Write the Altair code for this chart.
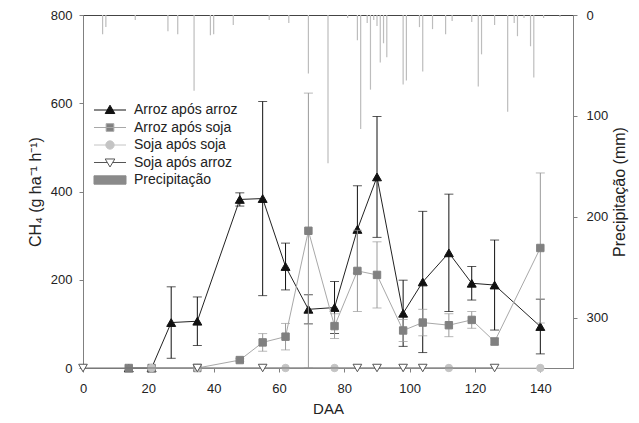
import altair as alt
import pandas as pd

# ---------------- data ----------------
aa_days = [14, 21, 27, 35, 48, 55, 62, 69, 77, 84, 90, 98, 104, 112, 119, 126, 140]
aa_vals = [0, 0, 103, 106, 382, 384, 230, 133, 137, 314, 433, 124, 195, 261, 192, 188, 94]
aa_errs = [0, 0, 81, 55, 15, 220, 53, 33, 59, 99, 137, 75, 160, 133, 38, 102, 62]

as_days = [14, 21, 35, 48, 55, 62, 69, 77, 84, 90, 98, 104, 112, 119, 126, 140]
as_vals = [0, 0, 0, 18, 58, 71, 311, 95, 220, 211, 85, 103, 97, 109, 60, 272]
as_errs = [0, 0, 0, 3, 20, 30, 312, 28, 92, 75, 25, 30, 26, 19, 8, 170]

ss_days = [21, 35, 62, 77, 112, 140]
ss_vals = [0, 0, 0, 0, 0, 0]

sa_days = [0, 35, 55, 84, 90, 98, 104, 126]
sa_vals = [0, 0, 0, 0, 0, 0, 0, 0]

pr_days = [6, 7, 16, 26, 29, 34, 39, 40, 46, 57, 63, 69, 75, 81, 84, 85, 87, 88, 89, 90,
           91, 92, 93, 98, 99, 103, 104, 107, 111, 113, 119, 121, 122, 126, 130, 132, 133,
           135, 137, 138, 141, 146]
pr_mm = [19, 12, 5, 16, 19, 75, 20, 19, 10, 5, 8, 58, 147, 3, 25, 113, 8, 74, 5, 11,
         47, 28, 42, 69, 65, 12, 56, 14, 19, 6, 7, 71, 39, 10, 96, 8, 21,
         3, 31, 62, 3, 2]

legend_names = ["Arroz após arroz", "Arroz após soja", "Soja após soja",
                "Soja após arroz", "Precipitação"]
x_ticks = [0, 20, 40, 60, 80, 100, 120, 140]
y_ticks = [0, 200, 400, 600, 800]
p_ticks = [0, 100, 200, 300]

FONT = "Liberation Sans"

# ---------------- tables ----------------
def series(days, vals, errs=None):
    df = pd.DataFrame({"d": days, "v": vals})
    if errs is not None:
        df["e"] = errs
        df["lo"] = [max(0, v - e) for v, e in zip(vals, errs)]
        df["hi"] = [v + e for v, e in zip(vals, errs)]
    return df

df_aa = series(aa_days, aa_vals, aa_errs)
df_as = series(as_days, as_vals, as_errs)
df_ss = series(ss_days, ss_vals)
df_sa = series(sa_days, sa_vals)
df_pr = pd.DataFrame({"d": pr_days, "mm": pr_mm})
df_leg = pd.DataFrame({"serie": legend_names})

# ---------------- encodings ----------------
x_axis = alt.Axis(values=x_ticks, title="DAA", format="d", labelFlush=False,
                  labelPadding=10, titlePadding=6)
def X():
    return alt.X("d:Q", scale=alt.Scale(domain=[0, 150], nice=False, zero=False), axis=x_axis)

y_axis = alt.Axis(values=y_ticks, title="CH₄ (g ha⁻¹ h⁻¹)", orient="left", titlePadding=7)
def Y(field):
    return alt.Y(f"{field}:Q", scale=alt.Scale(domain=[0, 800], nice=False), axis=y_axis)

def line_pts(df, line_color, shape, fill, stroke, size):
    base = alt.Chart(df)
    ln = base.mark_line(color=line_color, strokeWidth=1).encode(x=X(), y=Y("v"))
    pt = base.mark_point(shape=shape, fill=fill, stroke=stroke, filled=False,
                         strokeWidth=1, size=size, opacity=1).encode(x=X(), y=Y("v"))
    return ln, pt

def errbars(df, color):
    d = df[df["e"] > 0]
    base = alt.Chart(d)
    r = base.mark_rule(color=color, strokeWidth=1).encode(
        x=X(), y=Y("lo"), y2=alt.Y2("hi:Q"))
    t1 = base.mark_tick(color=color, orient="horizontal", size=9, thickness=1).encode(
        x=X(), y=Y("lo"))
    t2 = base.mark_tick(color=color, orient="horizontal", size=9, thickness=1).encode(
        x=X(), y=Y("hi"))
    return [r, t1, t2]

AA_C = "#111111"
AS_LINE = "#a8a8a8"
AS_MARK = "#808080"
AS_ERR = "#9a9a9a"
SS_C = "#c4c4c4"
SA_LINE = "#707070"
SA_MARK = "#555555"
PR_C = "#bdbdbd"
PR_LEG = "#8a8a8a"

aa_ln, aa_pt = line_pts(df_aa, "#222222", "triangle-up", AA_C, AA_C, 80)
as_ln, as_pt = line_pts(df_as, AS_LINE, "square", AS_MARK, AS_MARK, 55)
ss_ln, ss_pt = line_pts(df_ss, SS_C, "circle", SS_C, SS_C, 55)
sa_ln, sa_pt = line_pts(df_sa, SA_LINE, "triangle-down", "white", SA_MARK, 75)

# legend-only layer (no marks drawn; legend built from the scale domain)
leg_shapes = [
    "M-2.5,0H2.5M0,-0.75L0.75,0.55L-0.75,0.55Z",
    "M-2.5,0H2.5M-0.6,-0.6H0.6V0.6H-0.6Z",
    "M-2.5,0H2.5M-0.65,0A0.65,0.65 0 1,0 0.65,0A0.65,0.65 0 1,0 -0.65,0Z",
    "M-2.5,0H-0.42M0.42,0H2.5M-0.75,-0.55L0.75,-0.55L0,0.7Z",
    "M-2.5,-0.65H2.5V0.65H-2.5Z",
]
leg_fill = [AA_C, AS_MARK, SS_C, "white", PR_LEG]
leg_stroke = [AA_C, AS_LINE, SS_C, SA_MARK, PR_LEG]
legend = alt.Legend(orient="none", legendX=20, legendY=88, title=None,
                    labelFont=FONT, labelFontSize=14, labelColor="#222222",
                    symbolSize=164, symbolStrokeWidth=1, symbolOpacity=1, rowPadding=3.5,
                    labelOffset=17, padding=0)
leg_layer = alt.Chart(df_leg).mark_point(filled=True, size=164, opacity=1).encode(
    shape=alt.Shape("serie:N", scale=alt.Scale(domain=legend_names, range=leg_shapes),
                    legend=legend),
    fill=alt.Fill("serie:N", scale=alt.Scale(domain=legend_names, range=leg_fill),
                  legend=legend),
    stroke=alt.Stroke("serie:N", scale=alt.Scale(domain=legend_names, range=leg_stroke),
                      legend=legend),
).transform_filter("false")

ch4 = alt.layer(
    *errbars(df_aa, "#111111"), aa_ln, aa_pt,
    *errbars(df_as, AS_ERR), as_ln, as_pt,
    ss_ln, ss_pt,
    sa_ln, sa_pt,
    leg_layer,
)

precip = alt.Chart(df_pr).mark_rule(color=PR_C, strokeWidth=1.2).encode(
    x=X(),
    y=alt.Y("mm:Q", scale=alt.Scale(domain=[0, 350], reverse=True, nice=False),
            axis=alt.Axis(orient="right", values=p_ticks, title="Precipitação (mm)",
                          titleAngle=270, titlePadding=20, labelPadding=9)),
    y2=alt.datum(0),
)

chart = alt.layer(precip, ch4).resolve_scale(y="independent").properties(
    width=490, height=353,
    autosize=alt.AutoSizeParams(type="none"),
    padding={"left": 75, "top": 7, "right": 56, "bottom": 47},
).configure_view(
    stroke="#444444", strokeWidth=1
).configure_axis(
    grid=False, labelFont=FONT, titleFont=FONT, labelFontSize=13, titleFontSize=16,
    titleFontWeight="normal", labelColor="#222222", titleColor="#222222",
    domainColor="#808080", tickColor="#808080", tickSize=4, labelPadding=7,
).configure_axisX(
    titleFontSize=15,
)

chart.save("out.html", embed_options={"renderer": "svg", "actions": False})
